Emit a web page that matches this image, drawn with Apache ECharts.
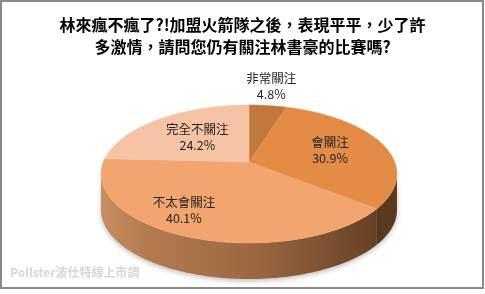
<!DOCTYPE html>
<html>
<head>
<meta charset="utf-8">
<script src="https://cdn.jsdelivr.net/npm/echarts@6/dist/echarts.min.js"></script>
<style>html,body{margin:0;padding:0;background:#fff}#c{width:485px;height:294px}</style>
</head>
<body>
<div id="c"></div>
<script>
// ---- data ----
var categories = ['非常關注', '會關注', '不太會關注', '完全不關注'];
var values = [4.8, 30.9, 40.1, 24.2];
var titleText = '林來瘋不瘋了?!加盟火箭隊之後，表現平平，少了許\n多激情，請問您仍有關注林書豪的比賽嗎?';
var sourceText = 'Pollster波仕特線上市調';

// ---- style / layout config ----
var topColors = ['#c0783c', '#e48c45', '#f2a56f', '#f6c3a4'];
var labelRadius = [1.43, 0.6, 0.75, 0.55];
var labelAngleShift = [-1, 0, 11.3, 0];
var geo = {cx: 249, cy: 162, C: 145.7, B: 66.9, k: 0.174, D: 36};

var total = values.reduce(function (a, b) { return a + b; }, 0);
var starts = [];
(function () { var acc = 0; for (var i = 0; i < values.length; i++) { starts.push(acc); acc += values[i]; } })();

function proj(r, deg, dy) {
  var t = deg * Math.PI / 180;
  var u = r * Math.sin(t), v = -r * Math.cos(t);
  var s = 1 / (1 - geo.k * v);
  return [geo.cx + geo.C * u * s, geo.cy + geo.B * v * s + (dy || 0)];
}
function arc(a0, a1, dy) {
  var pts = [], n = Math.max(2, Math.ceil(Math.abs(a1 - a0)));
  for (var j = 0; j <= n; j++) pts.push(proj(1, a0 + (a1 - a0) * j / n, dy));
  return pts;
}
var visA = 180 - Math.acos(geo.k) * 180 / Math.PI; // right silhouette
var visB = 360 - visA;                              // left silhouette
var left = proj(1, visB)[0], right = proj(1, visA)[0];

function wallGradient(i) {
  var stops = i === 1
    ? [{offset: 0, color: '#8a5530'}, {offset: 1, color: '#5a381e'}]
    : [{offset: 0, color: '#c88c5f'}, {offset: 0.15, color: '#b47b50'}, {offset: 0.55, color: '#99653f'}, {offset: 1, color: '#5c3a22'}];
  return new echarts.graphic.LinearGradient(0, 0, 1, 0, stops, false);
}

var chart = echarts.init(document.getElementById('c'));
chart.setOption({
  backgroundColor: '#ffffff',
  animation: false,
  title: {
    text: titleText,
    left: 'center',
    top: 9,
    textStyle: {fontFamily: 'Noto Sans CJK TC', fontSize: 16, fontWeight: 'bold', lineHeight: 22, color: '#000'}
  },
  graphic: [
    {type: 'rect', shape: {x: 1, y: 1, width: 482, height: 287}, style: {fill: 'none', stroke: '#8a8a8a', lineWidth: 2}, z: 100},
    {type: 'text', left: 10, top: 266, style: {text: sourceText, fontFamily: 'Noto Sans CJK TC', fontSize: 12, fontWeight: 'bold', fill: '#d6d6d6'}}
  ],
  series: [{
    type: 'custom',
    coordinateSystem: 'none',
    data: values.map(function (v, i) { return [v, i]; }),
    renderItem: function (params, api) {
      var i = params.dataIndex;
      var val = api.value(0);
      var a0 = starts[i] / total * 360, a1 = (starts[i] + val) / total * 360;
      var children = [];
      var w0 = Math.max(a0, visA), w1 = Math.min(a1, visB);
      if (w1 > w0) {
        var pts = arc(w0, w1, 0).concat(arc(w1, w0, geo.D));
        var grad = new echarts.graphic.LinearGradient(0, 0, 1, 0, wallGradient(i).colorStops, false);
        grad.x = left; grad.x2 = right; grad.global = true;
        grad.y = 0; grad.y2 = 0;
        children.push({type: 'polygon', shape: {points: pts}, style: {fill: grad, shadowBlur: 5, shadowOffsetY: 2, shadowColor: 'rgba(0,0,0,0.25)'}, z2: 1});
      }
      var face = [proj(0, 0)].concat(arc(a0, a1, 0));
      children.push({type: 'polygon', shape: {points: face}, style: {fill: topColors[i], stroke: topColors[i], lineWidth: 0.5}, z2: 2});
      var mid = (a0 + a1) / 2 + labelAngleShift[i];
      var lp = proj(labelRadius[i], mid);
      children.push({type: 'text', z2: 10, style: {
        text: categories[i] + '\n' + val.toFixed(1) + '%',
        x: lp[0], y: lp[1], align: 'center', verticalAlign: 'middle',
        fontFamily: 'Noto Sans CJK TC', fontSize: 12.5, lineHeight: 16, fill: '#222'
      }});
      return {type: 'group', children: children};
    }
  }]
});
</script>
</body>
</html>
